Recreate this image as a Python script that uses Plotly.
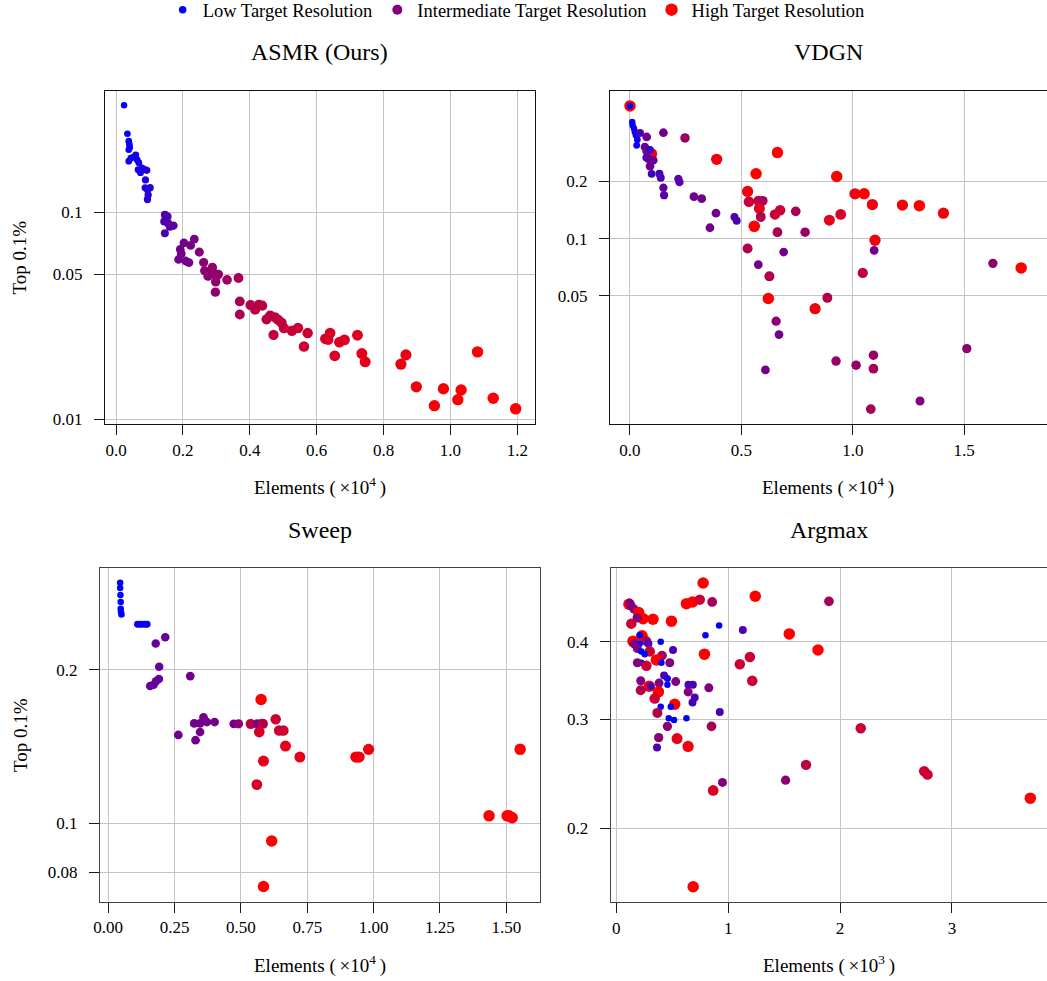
import plotly.graph_objects as go

# ---------------------------------------------------------------------------
# Data: element count (x), Top 0.1% error (y), target-resolution level (0..1)
# ---------------------------------------------------------------------------
asmr_elements = [0.024, 0.034, 0.038, 0.040, 0.038, 0.041, 0.038, 0.044, 0.052, 0.059,
                 0.063, 0.068, 0.066, 0.073, 0.078, 0.088, 0.092, 0.088, 0.087, 0.094,
                 0.102, 0.096, 0.094,
                 0.146, 0.154, 0.144, 0.156, 0.172, 0.146, 0.161,
                 0.203, 0.192, 0.234, 0.223, 0.195, 0.187, 0.218, 0.208, 0.249, 0.262,
                 0.265, 0.275, 0.288, 0.290, 0.300, 0.306, 0.298, 0.297, 0.332, 0.366,
                 0.370, 0.370, 0.402, 0.416, 0.427, 0.437, 0.450, 0.461, 0.476, 0.485,
                 0.495, 0.502, 0.471, 0.526, 0.544, 0.573, 0.562, 0.626, 0.640, 0.634,
                 0.654, 0.668, 0.683, 0.722, 0.735, 0.745,
                 0.852, 0.867, 1.081, 0.898, 0.952, 0.979, 1.022, 1.032, 1.128, 1.195]
asmr_top01 = [0.328, 0.239, 0.220, 0.212, 0.200, 0.205, 0.176, 0.182, 0.184, 0.189,
              0.179, 0.173, 0.160, 0.155, 0.163, 0.160, 0.159, 0.143, 0.131, 0.128,
              0.131, 0.121, 0.115,
              0.097, 0.095, 0.090, 0.088, 0.086, 0.079, 0.085,
              0.071, 0.066, 0.074, 0.069, 0.063, 0.059, 0.057, 0.058, 0.064, 0.057,
              0.052, 0.049, 0.054, 0.051, 0.049, 0.050, 0.046, 0.041, 0.047, 0.048,
              0.037, 0.032, 0.0355, 0.0337, 0.0356, 0.0353, 0.0303, 0.0316, 0.031, 0.0301,
              0.0292, 0.0275, 0.0255, 0.0267, 0.0275, 0.026, 0.0224, 0.0244, 0.026, 0.0242,
              0.0202, 0.0235, 0.0241, 0.0254, 0.0207, 0.0189,
              0.0184, 0.0204, 0.0211, 0.0143, 0.0116, 0.0140, 0.0124, 0.0138, 0.0126, 0.0112]
asmr_res = [0.0, 0.02, 0.03, 0.03, 0.03, 0.04, 0.04, 0.05, 0.06, 0.07,
            0.07, 0.08, 0.08, 0.09, 0.10, 0.12, 0.12, 0.13, 0.14, 0.15,
            0.16, 0.16, 0.17,
            0.30, 0.32, 0.30, 0.33, 0.35, 0.30, 0.34,
            0.45, 0.44, 0.48, 0.47, 0.45, 0.44, 0.47, 0.46, 0.52, 0.54,
            0.55, 0.56, 0.57, 0.57, 0.58, 0.58, 0.58, 0.58, 0.62, 0.66,
            0.67, 0.67, 0.70, 0.71, 0.71, 0.72, 0.73, 0.74, 0.75, 0.75,
            0.76, 0.77, 0.76, 0.78, 0.79, 0.80, 0.80, 0.84, 0.85, 0.85,
            0.86, 0.86, 0.87, 0.88, 0.90, 0.90,
            0.93, 0.93, 0.99, 0.95, 0.97, 0.97, 0.98, 0.98, 1.0, 1.0]

vdgn_elements = [0.0, 0.0, 0.010, 0.012, 0.018, 0.022, 0.027, 0.033, 0.030, 0.045,
                 0.075, 0.150, 0.247, 0.067, 0.097, 0.075, 0.090, 0.072, 0.082, 0.105,
                 0.090, 0.097, 0.132, 0.138, 0.217, 0.222, 0.150, 0.153, 0.287, 0.322,
                 0.386, 0.359, 0.469, 0.479, 0.389, 0.662, 0.566, 0.928, 0.528, 0.534,
                 0.576, 0.596, 0.581, 0.587, 0.558, 0.651, 0.674, 0.744, 0.662, 0.786,
                 0.690, 0.528, 0.576, 0.626, 0.621, 0.656, 0.669, 0.608, 0.831, 0.886,
                 0.895, 0.946, 1.010, 1.051, 1.088, 1.223, 1.299, 1.407, 1.100, 1.096,
                 1.045, 1.629, 1.756, 0.925, 1.015, 1.093, 1.093, 1.512, 1.302, 1.081]
vdgn_top01 = [0.498, 0.498, 0.410, 0.394, 0.379, 0.363, 0.349, 0.331, 0.309, 0.359,
              0.342, 0.360, 0.338, 0.303, 0.279, 0.288, 0.293, 0.266, 0.263, 0.258,
              0.240, 0.219, 0.219, 0.209, 0.206, 0.198, 0.185, 0.169, 0.166, 0.162,
              0.136, 0.114, 0.130, 0.124, 0.261, 0.283, 0.219, 0.212, 0.177, 0.156,
              0.158, 0.158, 0.144, 0.130, 0.116, 0.134, 0.141, 0.139, 0.108, 0.108,
              0.085, 0.0886, 0.073, 0.0633, 0.0484, 0.0368, 0.0313, 0.0204, 0.0428, 0.0488,
              0.125, 0.134, 0.172, 0.172, 0.151, 0.150, 0.149, 0.136, 0.098, 0.0868,
              0.066, 0.0741, 0.0701, 0.0227, 0.0216, 0.0244, 0.0207, 0.0264, 0.014, 0.0127]
vdgn_res = [1.0, 0.0, 0.0, 0.0, 0.02, 0.03, 0.05, 0.05, 0.08, 0.30,
            0.45, 0.45, 0.60, 0.40, 0.95, 0.45, 0.20, 0.15, 0.40, 0.40,
            0.45, 0.25, 0.30, 0.30, 0.35, 0.35, 0.35, 0.35, 0.45, 0.45,
            0.45, 0.45, 0.30, 0.30, 0.95, 1.0, 1.0, 1.0, 0.95, 0.80,
            0.75, 0.65, 0.90, 0.70, 1.0, 0.80, 0.80, 0.65, 0.65, 0.60,
            0.45, 0.70, 0.45, 0.70, 1.0, 0.55, 0.45, 0.45, 0.95, 0.70,
            0.90, 0.85, 0.95, 1.0, 0.95, 0.95, 1.0, 0.95, 0.95, 0.45,
            0.75, 0.55, 1.0, 0.60, 0.60, 0.60, 0.65, 0.55, 0.50, 0.65]

sweep_elements = [0.045, 0.045, 0.046, 0.047, 0.047, 0.048, 0.050,
                  0.110, 0.119, 0.128, 0.139, 0.147,
                  0.179, 0.215, 0.192, 0.158, 0.171, 0.180, 0.191, 0.309, 0.264, 0.329,
                  0.324, 0.346, 0.359, 0.372, 0.401, 0.346, 0.473, 0.491, 0.537, 0.560,
                  0.573, 0.583, 0.569, 0.576, 0.631, 0.644, 0.660, 0.668, 0.722, 0.585,
                  0.560, 0.616, 0.585, 0.933, 0.945, 0.981, 1.435, 1.503, 1.510, 1.522,
                  1.552]
sweep_top01 = [0.297, 0.290, 0.281, 0.272, 0.264, 0.260, 0.257,
               0.246, 0.246, 0.246, 0.246, 0.246,
               0.2255, 0.232, 0.203, 0.186, 0.187, 0.190, 0.192, 0.1945, 0.149, 0.1455,
               0.157, 0.151, 0.1614, 0.158, 0.158, 0.157, 0.1567, 0.1567, 0.1567, 0.1567,
               0.1567, 0.1567, 0.151, 0.175, 0.160, 0.152, 0.152, 0.1417, 0.1348, 0.1324,
               0.119, 0.0922, 0.0750, 0.1348, 0.1348, 0.1396, 0.1033, 0.1033, 0.1033, 0.1024,
               0.1396]
sweep_res = [0.0, 0.0, 0.0, 0.0, 0.0, 0.0, 0.0,
             0.05, 0.05, 0.05, 0.05, 0.05,
             0.40, 0.40, 0.40, 0.40, 0.40, 0.40, 0.40, 0.45, 0.45, 0.45,
             0.45, 0.45, 0.45, 0.45, 0.45, 0.45, 0.45, 0.55, 0.75, 0.50,
             0.50, 0.70, 0.85, 1.0, 0.80, 0.80, 0.80, 0.90, 0.90, 0.90,
             0.85, 1.0, 1.0, 0.95, 0.95, 0.95, 1.0, 1.0, 1.0, 1.0,
             1.0]

argmax_elements = [0.776, 1.242, 0.627, 0.681, 0.746, 0.857, 1.901, 0.113, 0.119, 0.134,
                   0.158, 0.200, 0.239, 0.328, 0.493, 0.185, 0.134, 0.919, 1.131, 0.797,
                   1.546, 0.149, 0.230, 0.269, 0.158, 0.209, 0.287, 0.397, 0.209, 0.507,
                   0.188, 0.299, 0.224, 0.254, 0.409, 0.788, 1.803, 1.194, 0.358, 0.224,
                   0.188, 0.269, 0.403, 0.478, 1.104, 0.427, 0.457, 0.457, 0.531, 0.218,
                   0.382, 0.293, 0.307, 0.645, 0.684, 0.827, 1.215, 0.218, 0.376, 0.642,
                   0.343, 0.701, 0.681, 0.522, 0.397, 0.487, 0.925, 0.367, 0.469, 0.516,
                   0.627, 0.457, 0.851, 2.185, 0.379, 0.543, 0.642, 0.364, 1.696, 1.513,
                   0.949, 0.866, 2.752, 2.782, 3.701, 0.687]
argmax_top01 = [0.498, 0.474, 0.461, 0.464, 0.468, 0.464, 0.465, 0.460, 0.462, 0.457,
                0.452, 0.446, 0.436, 0.435, 0.432, 0.437, 0.428, 0.425, 0.418, 0.410,
                0.412, 0.401, 0.409, 0.401, 0.397, 0.410, 0.397, 0.400, 0.397, 0.388,
                0.390, 0.386, 0.386, 0.382, 0.380, 0.382, 0.388, 0.378, 0.374, 0.370,
                0.370, 0.366, 0.370, 0.370, 0.368, 0.353, 0.349, 0.341, 0.345, 0.346,
                0.343, 0.339, 0.339, 0.341, 0.341, 0.337, 0.346, 0.334, 0.332, 0.332,
                0.324, 0.325, 0.319, 0.317, 0.314, 0.314, 0.308, 0.307, 0.301, 0.299,
                0.301, 0.292, 0.292, 0.290, 0.280, 0.279, 0.271, 0.270, 0.253, 0.239,
                0.237, 0.230, 0.247, 0.244, 0.2235, 0.1607]
argmax_res = [1.0, 1.0, 1.0, 1.0, 0.80, 0.65, 0.65, 1.0, 0.50, 0.50,
              0.50, 1.0, 1.0, 1.0, 1.0, 0.50, 0.80, 0.0, 0.30, 0.0,
              1.0, 1.0, 1.0, 0.65, 0.50, 0.0, 0.30, 0.0, 0.0, 0.30,
              0.50, 0.80, 0.0, 0.0, 0.65, 1.0, 1.0, 0.80, 1.0, 0.0,
              0.50, 0.80, 0.0, 0.50, 0.80, 0.30, 0.10, 0.0, 0.50, 0.50,
              0.50, 1.0, 0.30, 0.30, 0.30, 0.50, 0.80, 0.70, 1.0, 0.50,
              0.80, 0.30, 0.30, 1.0, 0.0, 0.0, 0.30, 0.70, 0.0, 0.0,
              0.0, 0.55, 0.65, 0.80, 0.55, 0.90, 0.95, 0.30, 0.75, 0.55,
              0.50, 0.85, 0.80, 0.80, 1.0, 1.0]

panel_titles = ["ASMR (Ours)", "VDGN", "Sweep", "Argmax"]
x_titles = ["Elements (\u2009×10<sup>4</sup>\u2009)", "Elements (\u2009×10<sup>4</sup>\u2009)",
            "Elements (\u2009×10<sup>4</sup>\u2009)", "Elements (\u2009×10<sup>3</sup>\u2009)"]
y_title = "Top 0.1%"
legend_labels = ["Low Target Resolution", "Intermediate Target Resolution",
                 "High Target Resolution"]
legend_levels = [0.0, 0.5, 1.0]

# ---------------------------------------------------------------------------
FONT = "Liberation Serif"
H = 981.0


def res_color(t):
    return "rgb({},0,{})".format(round(255 * t), round(255 * (1 - t)))


def res_size(t):
    return 6.5 + 5.0 * t


panels = [
    dict(x=asmr_elements, y=asmr_top01, r=asmr_res,
         xdom=[0.1003, 0.5107], ydom=[0.5675, 0.9075],
         xr=[-0.033, 1.252], yr=[-2.0255, -0.414],
         xt=[0.0, 0.2, 0.4, 0.6, 0.8, 1.0, 1.2], xfmt=".1f",
         yt=[0.01, 0.05, 0.1], ytxt=["0.01", "0.05", "0.1"],
         title_base=67, xtitle_top=472, line="#111111"),
    dict(x=vdgn_elements, y=vdgn_top01, r=vdgn_res,
         xdom=[0.5826, 1.0], ydom=[0.5675, 0.9075],
         xr=[-0.0898, 1.872], yr=[-1.976, -0.223],
         xt=[0.0, 0.5, 1.0, 1.5], xfmt=".1f",
         yt=[0.05, 0.1, 0.2], ytxt=["0.05", "0.1", "0.2"],
         title_base=67, xtitle_top=472, line="#111111"),
    dict(x=sweep_elements, y=sweep_top01, r=sweep_res,
         xdom=[0.0955, 0.5158], ydom=[0.0808, 0.4207],
         xr=[-0.031, 1.627], yr=[-1.1548, -0.499],
         xt=[0.0, 0.25, 0.5, 0.75, 1.0, 1.25, 1.5], xfmt=".2f",
         yt=[0.08, 0.1, 0.2], ytxt=["0.08", "0.1", "0.2"],
         title_base=545, xtitle_top=950, line="#444444"),
    dict(x=argmax_elements, y=argmax_top01, r=argmax_res,
         xdom=[0.5833, 1.0], ydom=[0.0805, 0.421],
         xr=[-0.05, 3.85], yr=[-0.8186, -0.2786],
         xt=[0, 1, 2, 3], xfmt="d",
         yt=[0.2, 0.3, 0.4], ytxt=["0.2", "0.3", "0.4"],
         title_base=545, xtitle_top=950, line="#444444"),
]

fig = go.Figure()
layout = dict(
    width=1047, height=981,
    margin=dict(l=0, r=0, t=0, b=0, autoexpand=False),
    paper_bgcolor="white", plot_bgcolor="white",
    font=dict(family=FONT, size=16, color="black"),
    showlegend=True,
    legend=dict(orientation="h", x=0.493, xanchor="center", y=1.009, yanchor="top",
                font=dict(family=FONT, size=18.5), itemclick=False,
                bgcolor="rgba(0,0,0,0)"),
)
annotations = []

for i, p in enumerate(panels):
    n = "" if i == 0 else str(i + 1)
    fig.add_trace(go.Scatter(
        x=p["x"], y=p["y"], mode="markers", showlegend=False,
        xaxis="x" + n, yaxis="y" + n, hoverinfo="x+y",
        marker=dict(color=[res_color(t) for t in p["r"]], opacity=1,
                    size=[res_size(t) for t in p["r"]], line=dict(width=0)),
    ))
    axis_common = dict(showgrid=True, gridcolor="#c4c4c4", gridwidth=1,
                       showline=True, linecolor=p["line"], linewidth=1.3, mirror=True,
                       ticks="outside", ticklen=10, tickcolor="#1a1a1a", tickwidth=1,
                       zeroline=False, automargin=False,
                       tickfont=dict(family=FONT, size=17))
    layout["xaxis" + n] = dict(axis_common, domain=p["xdom"], range=p["xr"],
                               anchor="y" + n, tickvals=p["xt"], tickformat=p["xfmt"])
    layout["yaxis" + n] = dict(axis_common, domain=p["ydom"], range=p["yr"],
                               anchor="x" + n, type="log", ticklabelstandoff=8,
                               tickvals=p["yt"], ticktext=p["ytxt"])
    xc = (p["xdom"][0] + p["xdom"][1]) / 2
    annotations.append(dict(text=panel_titles[i], x=xc, y=1 - p["title_base"] / H,
                            xref="paper", yref="paper", showarrow=False,
                            xanchor="center", yanchor="bottom",
                            font=dict(family=FONT, size=24)))
    annotations.append(dict(text=x_titles[i], x=xc, y=1 - p["xtitle_top"] / H,
                            xref="paper", yref="paper", showarrow=False,
                            xanchor="center", yanchor="top",
                            font=dict(family=FONT, size=19)))
    if i in (0, 2):
        annotations.append(dict(text=y_title, x=0.019, xanchor="center",
                                y=(p["ydom"][0] + p["ydom"][1]) / 2, yanchor="middle",
                                xref="paper", yref="paper", showarrow=False,
                                textangle=-90, font=dict(family=FONT, size=19)))

for label, t in zip(legend_labels, legend_levels):
    fig.add_trace(go.Scatter(
        x=[None], y=[None], mode="markers", name=label,
        marker=dict(color=res_color(t), size=res_size(t) + 1, opacity=1,
                    line=dict(width=0)),
    ))

layout["annotations"] = annotations
fig.update_layout(**layout)
fig.write_html("out.html")
